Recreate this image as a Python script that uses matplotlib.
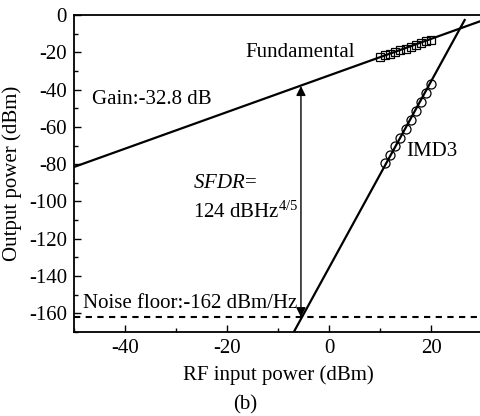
import numpy as np
import matplotlib
matplotlib.use("Agg")
import matplotlib.pyplot as plt

# values
fund_line_x = [-50, 30]
fund_line_y = [-81.5, -3.0]
imd_line_x = [-6.9, 26.6]
imd_line_y = [-170.0, -2.7]

fund_x = [10, 11, 12, 13, 14, 15, 16, 17, 18, 19, 20]
fund_y = [-22.6, -21.7, -20.8, -19.9, -18.9, -18.0, -17.0, -16.0, -15.1, -14.2, -13.4]

imd_x = [11, 12, 13, 14, 15, 16, 17, 18, 19, 20]
imd_y = [-79.5, -75.0, -70.3, -65.8, -61.0, -56.3, -51.5, -46.7, -41.8, -37.0]

noise_floor = -162
sfdr_x = -5.5
sfdr_top = -38.1

xticks = [-40, -20, 0, 20]
yticks = [0, -20, -40, -60, -80, -100, -120, -140, -160]

plt.rcParams['font.family'] = ['Liberation Serif', 'DejaVu Serif']
plt.rcParams['axes.unicode_minus'] = False
plt.rcParams['mathtext.fontset'] = 'custom'
plt.rcParams['mathtext.rm'] = 'Liberation Serif'
plt.rcParams['mathtext.it'] = 'Liberation Serif:italic'

fig = plt.figure(figsize=(4.81, 4.16), dpi=100)
ax = fig.add_axes([74/481, 1 - 332/416, (482 - 74)/481, (332 - 15)/416])

ax.plot(fund_line_x, fund_line_y, color='black', lw=1.6)
ax.plot(imd_line_x, imd_line_y, color='black', lw=1.6)
ax.plot(fund_x, fund_y, ls='none', marker='s', ms=5.8, mfc='none', mec='black', mew=0.9)
ax.plot(imd_x, imd_y, ls='none', marker='o', ms=6.5, mfc='none', mec='black', mew=0.9)
ax.axhline(noise_floor, color='black', lw=1.5, ls=(0, (3, 2.6)))

ax.annotate('', xy=(sfdr_x, sfdr_top), xytext=(sfdr_x, noise_floor),
            arrowprops=dict(arrowstyle='<|-|>', color='black', lw=1.0,
                            mutation_scale=14, shrinkA=0, shrinkB=0))

fs = 15
ax.text(-16.3, -20.3, 'Fundamental', fontsize=fs, ha='left', va='center')
ax.text(-46.5, -45.5, 'Gain:-32.8 dB', fontsize=fs, ha='left', va='center')
ax.text(15.2, -73.3, 'IMD3', fontsize=fs, ha='left', va='center')
ax.text(-26.6, -90.5, r'$\mathit{SFDR}$=', fontsize=fs, ha='left', va='center')
ax.text(-26.6, -105.5, r'124 dBHz$^{4/5}$', fontsize=fs, ha='left', va='center')
ax.text(-48.3, -154.5, 'Noise floor:-162 dBm/Hz', fontsize=fs, ha='left', va='center')

ax.set_xlim(-50, 30)
ax.set_ylim(-170, 0)
ax.set_xticks(xticks)
ax.set_yticks(yticks)
ax.set_xticks(np.arange(-50, 31, 10), minor=True)
ax.set_yticks(np.arange(-170, 1, 10), minor=True)
ax.tick_params(which='both', direction='in', labelsize=fs, width=1.0)
ax.tick_params(which='major', length=5, pad=5)
ax.tick_params(which='minor', length=3)
for s in ax.spines.values():
    s.set_linewidth(1.3)

ax.set_xlabel('RF input power (dBm)', fontsize=fs, labelpad=5)
ax.set_ylabel('Output power (dBm)', fontsize=fs, labelpad=5)
fig.text(245/481, 1 - 405/416, '(b)', fontsize=fs, ha='center', va='center')

fig.savefig('out.png', dpi=100)
